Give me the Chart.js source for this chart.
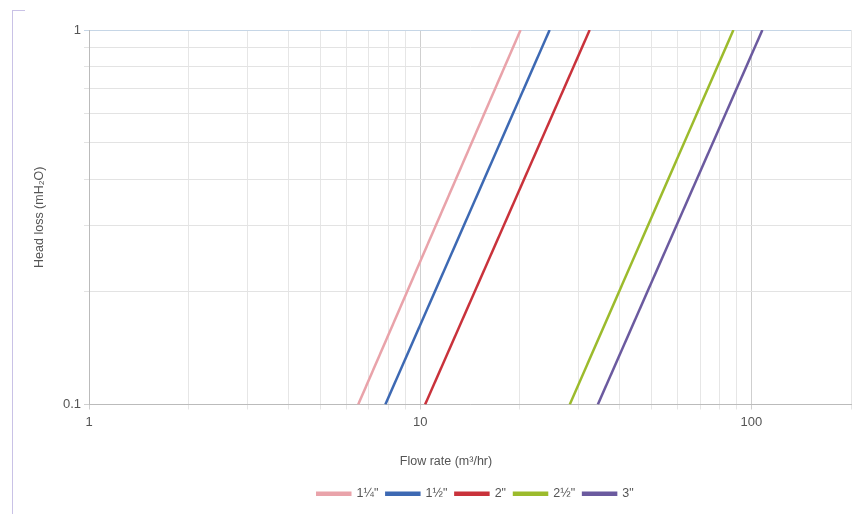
<!DOCTYPE html>
<html>
<head>
<meta charset="utf-8">
<script src="https://cdn.jsdelivr.net/npm/chart.js@4"></script>
<style>
  html, body { margin: 0; padding: 0; background: #fff; }
  #wrap { position: relative; width: 859px; height: 514px; }
  #frame { position: absolute; left: 12px; top: 10px; width: 12px; height: 504px;
           border-left: 1px solid #c9c2e6; border-top: 1px solid #c9c2e6; }
  canvas { position: absolute; left: 0; top: 0; }
</style>
</head>
<body>
<div id="wrap">
  <div id="frame"></div>
  <canvas id="chart" width="859" height="514"></canvas>
</div>
<script>
// Pipe sizes and flow (m3/hr) read at head loss 0.1 and 1 mH2O
const sizes = ["1¼\"", "1½\"", "2\"", "2½\"", "3\""];
const colors = ["#e9a3aa", "#3d69b3", "#c9323b", "#9cbb2c", "#6b5a9f"];
const headLoss = [0.1, 1];
const flowAtLow = [6.5, 7.85, 10.35, 28.3, 34.4];
const flowAtHigh = [20.1, 24.6, 32.5, 88.3, 108];
const xTickLabels = [1, 10, 100];
const yTickLabels = [0.1, 1];
const xGrid = [1, 2, 3, 4, 5, 6, 7, 8, 9, 10, 20, 30, 40, 50, 60, 70, 80, 90, 100, 200];
const yGrid = [0.1, 0.2, 0.3, 0.4, 0.5, 0.6, 0.7, 0.8, 0.9, 1];

const datasets = sizes.map((s, i) => ({
    label: s,
    data: [
        { x: flowAtLow[i], y: headLoss[0] },
        { x: flowAtHigh[i], y: headLoss[1] }
    ],
    borderColor: colors[i],
    backgroundColor: colors[i],
    borderWidth: 2.5,
    pointRadius: 0,
    tension: 0
}));

const isDecade = v => Math.abs(Math.log10(v) - Math.round(Math.log10(v))) < 1e-6;
const textColor = "#555";
const family = "'Liberation Sans', Arial, sans-serif";
const font = { family, size: 13 };

// x axis title drawn by hand so it sits where the original has it
const xTitle = {
    id: "xTitle",
    afterLayout(chart) {
        chart.legend.left += 36;
        chart.legend.right += 36;
    },
    afterDraw(chart) {
        const ctx = chart.ctx;
        ctx.save();
        ctx.fillStyle = textColor;
        ctx.font = "12.5px " + family;
        ctx.textAlign = "center";
        ctx.textBaseline = "middle";
        ctx.fillText("Flow rate (m³/hr)", 446, 462);
        ctx.restore();
    }
};

new Chart(document.getElementById("chart"), {
    type: "line",
    data: { datasets },
    plugins: [xTitle],
    options: {
        responsive: false,
        animation: false,
        layout: { padding: { top: 30, right: 8, left: 28, bottom: 4 } },
        scales: {
            x: {
                type: "logarithmic",
                min: 1,
                max: 200,
                afterBuildTicks: s => { s.ticks = xGrid.map(v => ({ value: v })); },
                afterFit: s => { s.height = 75; },
                border: { color: "#bbb" },
                grid: {
                    color: c => isDecade(c.tick.value) ? "#cfcfcf" : "#e6e6e6",
                    tickLength: 5
                },
                ticks: {
                    color: textColor,
                    font,
                    padding: 5,
                    autoSkip: false,
                    maxRotation: 0,
                    callback: v => xTickLabels.includes(v) ? String(v) : ""
                }
            },
            y: {
                type: "logarithmic",
                min: 0.1,
                max: 1,
                afterBuildTicks: s => { s.ticks = yGrid.map(v => ({ value: v })); },
                afterFit: s => { s.width = 61; },
                border: { color: "#bbb" },
                grid: {
                    color: c => c.tick.value === 1 ? "#c6d6e6" : (isDecade(c.tick.value) ? "#cfcfcf" : "#e3e3e3"),
                    tickLength: 5
                },
                ticks: {
                    color: textColor,
                    font,
                    autoSkip: false,
                    callback: v => yTickLabels.includes(v) ? String(v) : ""
                },
                title: {
                    display: true,
                    text: "Head loss (mH₂O)",
                    color: textColor,
                    font: { family, size: 12.5 },
                    padding: { bottom: 4 }
                }
            }
        },
        plugins: {
            legend: {
                position: "bottom",
                labels: {
                    boxWidth: 33,
                    boxHeight: 2,
                    padding: 8,
                    color: textColor,
                    font: { family, size: 12.5 }
                }
            },
            tooltip: { enabled: false }
        }
    }
});
</script>
</body>
</html>
